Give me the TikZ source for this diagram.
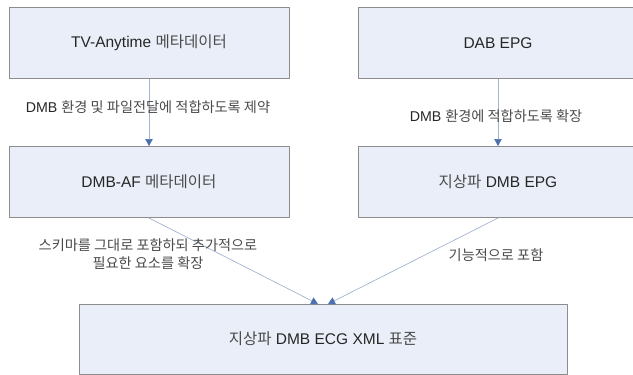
\documentclass[tikz,border=0pt]{standalone}
\usepackage{fontspec}
\setmainfont{Liberation Sans}
\newfontfamily\kr{Noto Sans CJK KR}
\usetikzlibrary{arrows.meta}
\definecolor{boxfill}{HTML}{E9EEF8}
\definecolor{boxline}{HTML}{8C8C8C}
\definecolor{arrline}{HTML}{A3B3CF}
\definecolor{arrhead}{HTML}{4A70B0}
\definecolor{krtext}{HTML}{4A4A4A}
\newcommand{\ko}[1]{{\kr\color{krtext}#1}}

\begin{document}
\begin{tikzpicture}[line cap=round,line join=round,x=1pt,y=-1pt,
	stdbox/.style={draw=boxline,line width=1pt,fill=boxfill,minimum width=280pt,minimum height=71pt,inner sep=0pt,font=\fontsize{15.5}{18}\selectfont,text=black!85},
	lbl/.style={inner sep=0pt,align=center,font=\fontsize{14.2}{17.5}\selectfont,text=black!85},
	conn/.style={draw=arrline,line width=0.7pt,-{Triangle[width=7.5pt,length=7pt,color=arrhead]}}]
	\useasboundingbox (0,0) rectangle (633,375);
	% boxes
	\node[stdbox] (tva) at (149,43) {TV-Anytime \ko{메타데이터}};
	\node[stdbox] (dab) at (498,43) {DAB EPG};
	\node[stdbox] (dmbaf) at (149,182) {DMB-AF \ko{메타데이터}};
	\node[stdbox] (tepg) at (498,182) {\ko{지상파} DMB EPG};
	\node[stdbox,minimum width=488pt,minimum height=70pt] (ecg) at (323,339) {\ko{지상파} DMB ECG XML \ko{표준}};
	\coordinate (ecgl) at (318,304);
	\coordinate (ecgr) at (328,304);
	% connectors
	\draw[conn] (tva.south) -- (dmbaf.north);
	\draw[conn] (dab.south) -- (tepg.north);
	\draw[conn] (dmbaf.south) -- (ecgl);
	\draw[conn] (tepg.south) -- (ecgr);
	% labels
	\node[lbl] (l1) at (148,107) {DMB \ko{환경 및 파일전달에 적합하도록 제약}};
	\node[lbl] (l2) at (496,116) {DMB \ko{환경에 적합하도록 확장}};
	\node[lbl] (l3) at (148,254) {\ko{스키마를 그대로 포함하되 추가적으로}\\\ko{필요한 요소를 확장}};
	\node[lbl] (l4) at (496,255) {\ko{기능적으로 포함}};
\end{tikzpicture}
\end{document}
